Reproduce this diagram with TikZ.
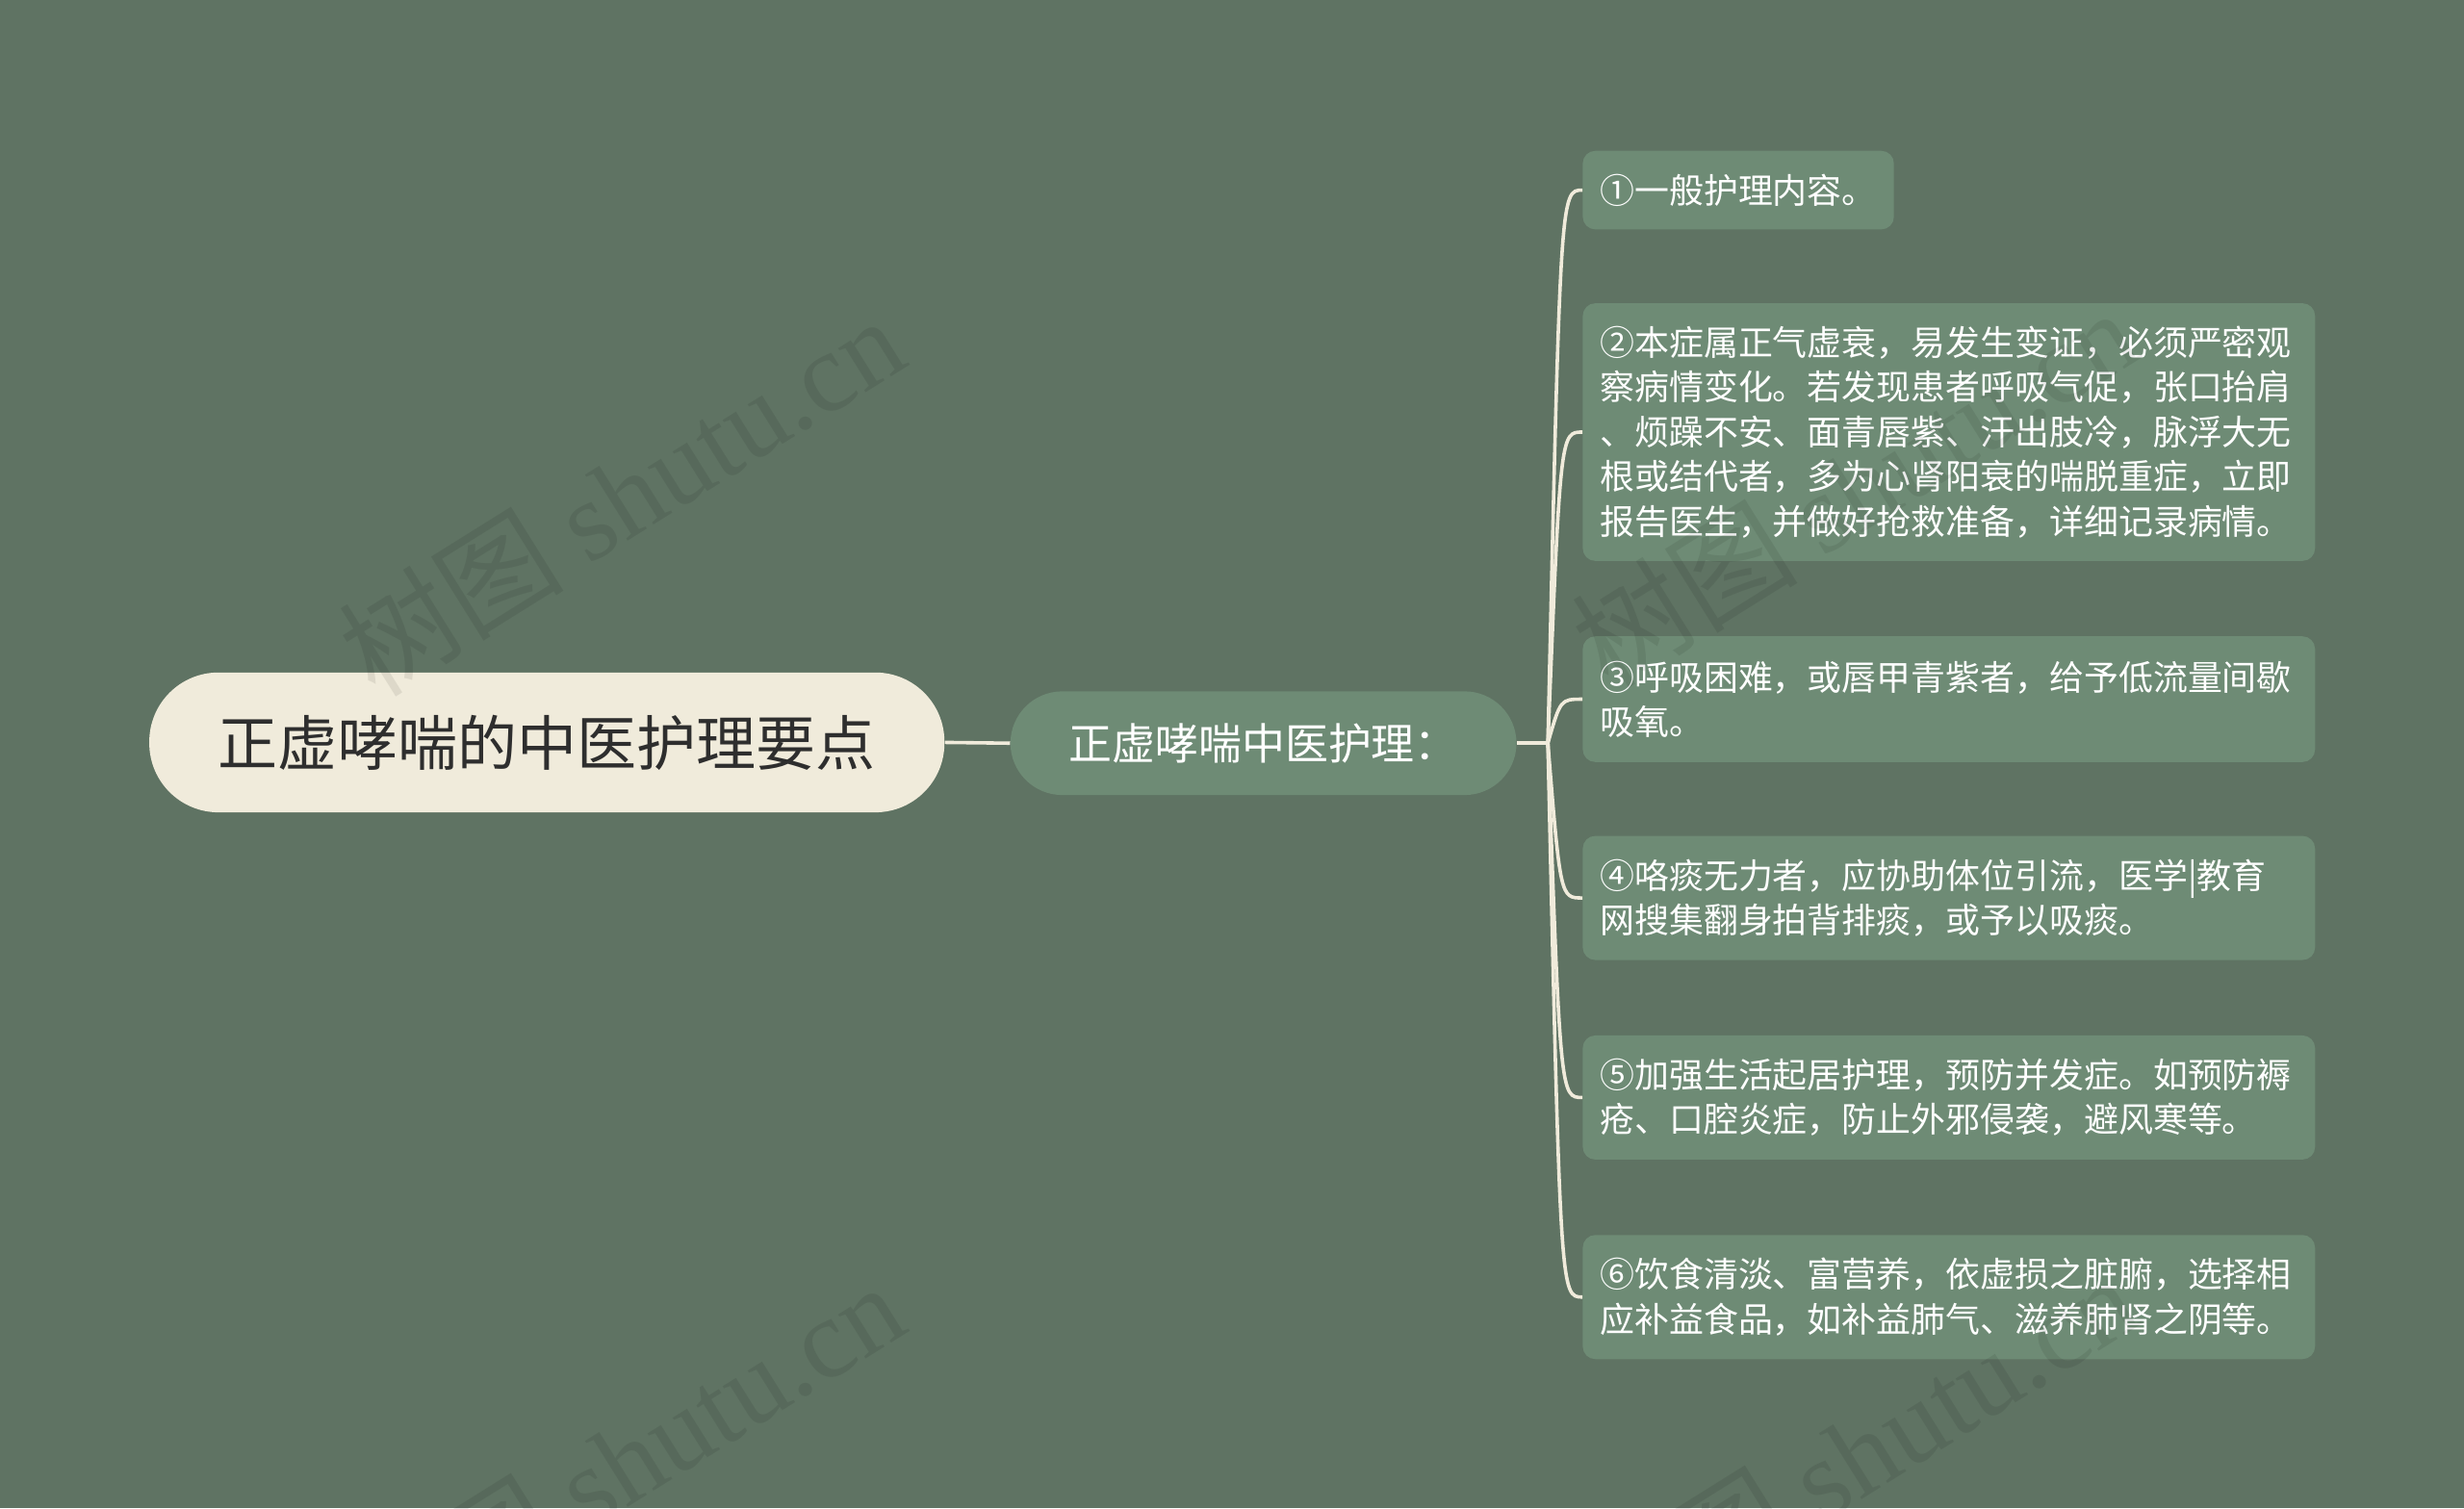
\documentclass[tikz,border=0pt]{standalone}
\usepackage{fontspec}
\setmainfont{Noto Sans CJK SC}
\newfontfamily\wmfont{Liberation Serif}
\definecolor{bgGreen}{HTML}{5F7363}
\definecolor{boxGreen}{HTML}{6E8B75}
\definecolor{rootCream}{HTML}{F0EBDB}
\definecolor{rootText}{HTML}{2E2E2E}

\begin{document}
\begin{tikzpicture}[x=1pt,y=-1pt,
  rootnode/.style={fill=rootCream,text=rootText,rounded corners=44pt,minimum width=506pt,minimum height=89pt,inner sep=0pt,font=\fontsize{38}{42}\selectfont},
  subnode/.style={fill=boxGreen,text=white,rounded corners=33pt,minimum width=322pt,minimum height=66pt,inner sep=0pt,font=\fontsize{27.5}{31}\selectfont},
  carenode/.style={fill=boxGreen,text=white,rounded corners=8pt,anchor=west,align=left,inner xsep=11pt,inner ysep=0pt,font=\fontsize{22}{28.5}\selectfont},
  widecare/.style={carenode,text width=444pt},
  link/.style={draw=rootCream,line width=2.2pt},
  wmtext/.style={rotate=32,text=black,text opacity=0.08,font=\fontsize{72}{76}\selectfont}]
\fill [bgGreen] (0,0) rectangle (1568,960);
\useasboundingbox (0,0) rectangle (1568,960);

\node [rootnode] (root) at (348,472.5) {正虚哮喘的中医护理要点};
\node [subnode] (sub) at (804,473) {正虚哮喘中医护理：};
\coordinate (hub) at (985,473);
\coordinate (hubx) at (993,473);

\node [carenode,minimum height=50pt] (care1) at (1007,121) {①一般护理内容。};
\node [widecare,minimum height=164pt] (care2) at (1007,275) {②本症属正气虚衰，易发生变证，必须严密观\\察病情变化。若发现患者呼吸气促，张口抬肩\\、烦躁不安、面青唇紫、汗出肢冷，脉浮大无\\根或结代者，多为心肾阳衰的喘脱重症，立即\\报告医生，并做好抢救准备，详细记录病情。};
\node [widecare,minimum height=80pt] (care3) at (1007,445) {③呼吸困难，或唇甲青紫者，给予低流量间歇\\吸氧。};
\node [widecare,minimum height=79pt] (care4) at (1007,571.5) {④咯痰无力者，应协助体位引流，医学|教育\\网搜集翻身拍背排痰，或予以吸痰。};
\node [widecare,minimum height=79pt] (care5) at (1007,698.5) {⑤加强生活起居护理，预防并发症。如预防褥\\疮、口腔炎症，防止外邪侵袭，避风寒等。};
\node [widecare,minimum height=79pt] (care6) at (1007,825.5) {⑥饮食清淡、富营养，依虚损之脏腑，选择相\\应补益食品，如补益肺气、滋养肺肾之阴等。};

\draw [link] (root.east) -- (sub.west);
\draw [link] (sub.east) -- (hub);
\foreach \c in {care1,care2,care3,care4,care5,care6}
  \draw [link] (hub) .. controls (hubx |- \c.west) and (hubx |- \c.west) .. (\c.west);

\foreach \wx/\wy in {395/315,395/930,1180/310,1180/925}
  \node [wmtext] at (\wx,\wy) {树图 {\wmfont shutu.cn}};
\end{tikzpicture}
\end{document}
